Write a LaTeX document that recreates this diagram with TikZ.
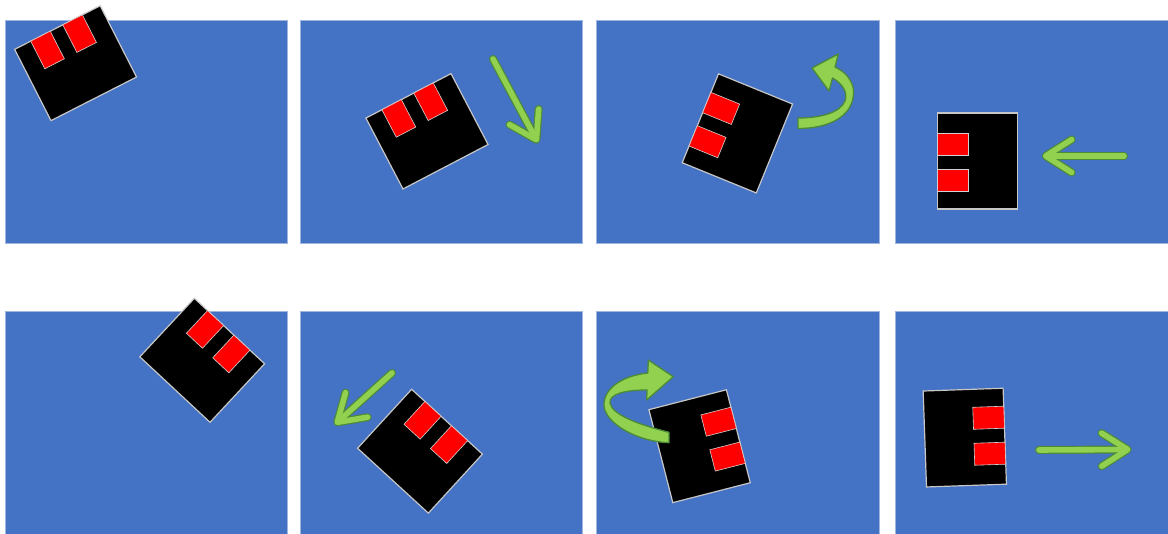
\documentclass[tikz,border=0pt]{standalone}
\usetikzlibrary{arrows.meta}
\definecolor{slideBlue}{RGB}{68,114,196}
\definecolor{slideEdge}{RGB}{160,182,222}
\definecolor{moveGreen}{RGB}{146,208,80}
\definecolor{moveEdge}{RGB}{76,138,56}
\definecolor{padRed}{RGB}{255,0,0}

\begin{document}
\begin{tikzpicture}[
  x=1pt, y=-1pt,
  slide/.style={fill=slideBlue, draw=slideEdge, line width=0.8pt},
  tag/.style={fill=black, draw=black!22, line width=1.2pt},
  pad/.style={fill=padRed, draw=black!18, line width=0.6pt},
  mv/.style={-{Straight Barb[length=26pt, width=33pt, round]}, line cap=round},
  mvedge/.style={mv, draw=moveEdge, line width=8pt},
  mvfill/.style={mv, draw=moveGreen, line width=5.6pt, shorten >=1.2pt},
  turn/.style={fill=moveGreen, draw=moveEdge, line width=1.3pt, line join=round},
  tagbox/.pic={
    \path[tag] (-48,-40) rectangle (48,40);
    \path[pad] (-30,-40) rectangle (-8,-9);
    \path[pad] (6,-40) rectangle (28,-9);
  }
]
\path[use as bounding box] (0,0) rectangle (1168,534);
\clip (0,0) rectangle (1168,534);
\fill[white] (0,0) rectangle (1168,534);

% slides, top row then bottom row
\path[slide] (5,20) rectangle (287,243);
\path[slide] (300,20) rectangle (582,243);
\path[slide] (596,20) rectangle (879,243);
\path[slide] (895,20) rectangle (1172,243);
\path[slide] (5,311) rectangle (287,540);
\path[slide] (300,311) rectangle (582,540);
\path[slide] (596,311) rectangle (879,540);
\path[slide] (895,311) rectangle (1172,540);

% the tag in each slide
\pic[rotate=27] at (75.6,63.2) {tagbox};
\pic[rotate=27.6] at (427,131.3) {tagbox};
\pic[rotate=67.8] at (737.4,133.4) {tagbox};
\pic[rotate=90] at (977.7,161) {tagbox};
\pic[rotate=-43] at (202.2,360.3) {tagbox};
\pic[rotate=-42.5] at (420,451.2) {tagbox};
\pic[rotate=-75.6] at (699.6,446.2) {tagbox};
\pic[rotate=-88] at (964.8,437.6) {tagbox};

% straight moves
\coordinate (downA) at (493,59);
\coordinate (downB) at (538.3,143.3);
\coordinate (leftA) at (1124,156);
\coordinate (leftB) at (1041.7,156);
\coordinate (dlA) at (392,373);
\coordinate (dlB) at (334.3,425);
\coordinate (rightA) at (1039,450);
\coordinate (rightB) at (1131.7,449.5);
\draw[mvedge] (downA) -- (downB);
\draw[mvfill] (downA) -- (downB);
\draw[mvedge] (leftA) -- (leftB);
\draw[mvfill] (leftA) -- (leftB);
\draw[mvedge] (dlA) -- (dlB);
\draw[mvfill] (dlA) -- (dlB);
\draw[mvedge] (rightA) -- (rightB);
\draw[mvfill] (rightA) -- (rightB);

% turning moves
\path[turn] (798,118) .. controls (820,118) and (840,113) .. (845,101)
  .. controls (848,93) and (843,84) .. (832.5,78) -- (829,91) -- (812,68)
  -- (838.3,54) -- (835,67) .. controls (848,73) and (856,85) .. (853,98)
  .. controls (850,116) and (830,128.5) .. (798,128.5) -- cycle;
\path[turn] (669,432.3) .. controls (640,425) and (612,415) .. (610,403)
  .. controls (609,394) and (625,390) .. (647,390) -- (646.7,400) -- (673.3,376.7)
  -- (648.3,360) -- (647.8,373) .. controls (620,376) and (603,390) .. (604,406)
  .. controls (606,425) and (640,442) .. (669,442.7) -- cycle;
\end{tikzpicture}
\end{document}
